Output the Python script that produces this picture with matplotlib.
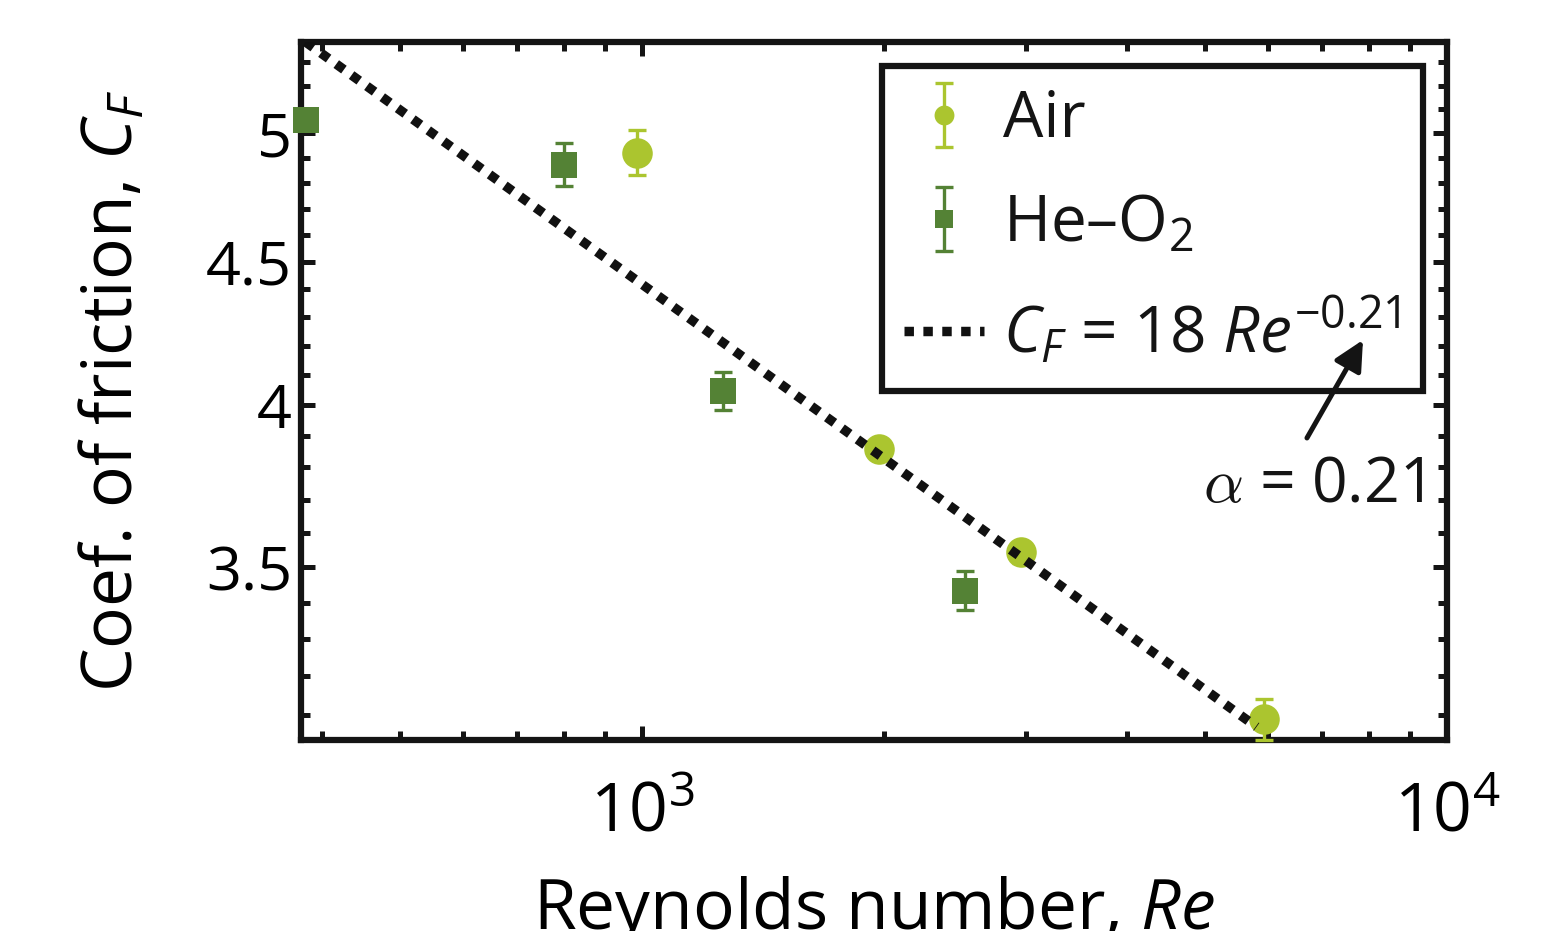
import matplotlib
matplotlib.use("Agg")
import matplotlib.pyplot as plt
from matplotlib.ticker import LogLocator, FixedLocator, NullFormatter, FixedFormatter

# ---- data ----
re_air = [985, 1972, 2954, 5923]
cf_air = [4.922, 3.859, 3.543, 3.089]
err_air = [0.09, 0.03, 0.03, 0.053]

re_he = [382, 799, 1261, 2516]
cf_he = [5.055, 4.873, 4.045, 3.434]
err_he = [0.04, 0.086, 0.063, 0.055]

fit_re = [382, 5800]
fit_cf = [5.39, 3.07]

y_major = [3.5, 4, 4.5, 5]
y_major_labels = ["3.5", "4", "4.5", "5"]
y_minor = [3.1, 3.2, 3.3, 3.4, 3.6, 3.7, 3.8, 3.9, 4.1, 4.2, 4.3, 4.4,
           4.6, 4.7, 4.8, 4.9, 5.1, 5.2, 5.3]

c_air = "#abc52f"
c_he = "#548235"

plt.rcParams['font.family'] = ['Open Sans', 'DejaVu Sans']
plt.rcParams['mathtext.fontset'] = 'custom'
plt.rcParams['mathtext.rm'] = 'Open Sans'
plt.rcParams['mathtext.it'] = 'Open Sans:italic'
plt.rcParams['mathtext.bf'] = 'Open Sans:bold'
plt.rcParams['text.color'] = '#141414'

fig = plt.figure(figsize=(15.59, 9.31), dpi=100)
ax = fig.add_axes([301/1559, 1-740/931, (1447-301)/1559, (740-42)/931])

ax.set_xscale('log')
ax.set_yscale('log')
ax.set_xlim(377, 10000)
ax.set_ylim(3.037, 5.39)

h_air = ax.errorbar(re_air, cf_air, yerr=err_air, fmt='o', color=c_air,
                    markersize=22, elinewidth=2.4,
                    capsize=6.7, capthick=2.4, zorder=3, clip_on=False)
h_air[0].set_markeredgewidth(0)
h_he = ax.errorbar(re_he, cf_he, yerr=err_he, fmt='s', color=c_he,
                   markersize=19, elinewidth=2.4,
                   capsize=6.7, capthick=2.4, zorder=3, clip_on=False)
h_he[0].set_markeredgewidth(0)
h_fit, = ax.plot(fit_re, fit_cf, color='#111111', lw=6.8,
                 linestyle=(0, (1, 1)), zorder=4)

# axes styling
for s in ax.spines.values():
    s.set_linewidth(4.5)
    s.set_color('#141414')

ax.yaxis.set_major_locator(FixedLocator(y_major))
ax.yaxis.set_major_formatter(FixedFormatter(y_major_labels))
ax.yaxis.set_minor_locator(FixedLocator(y_minor))
ax.yaxis.set_minor_formatter(NullFormatter())
ax.xaxis.set_major_locator(LogLocator(base=10, numticks=10))
ax.xaxis.set_minor_locator(LogLocator(base=10, subs=[2, 3, 4, 5, 6, 7, 8, 9], numticks=20))
ax.xaxis.set_minor_formatter(NullFormatter())

ax.tick_params(which='both', direction='in', top=True, right=True,
               color='#141414', width=3.6)
ax.tick_params(which='major', length=10)
ax.tick_params(which='minor', length=6.2)
ax.tick_params(axis='y', which='major', pad=6.5, labelsize=44)
ax.tick_params(axis='x', which='major', pad=29, labelsize=49)

ax.set_xlabel('Reynolds number, $Re$', fontsize=50, labelpad=19)
ax.set_ylabel('Coef. of friction, $C_F$', fontsize=50, labelpad=40)

leg = ax.legend([h_air, h_he, h_fit],
                ['Air', 'He\u2013O$_2$', '$C_F$ = 18 $Re^{-0.21}$'],
                loc='upper right', bbox_to_anchor=(0.979, 0.966),
                bbox_transform=ax.transAxes, fontsize=46, frameon=True,
                fancybox=False, framealpha=1, edgecolor='#141414',
                borderpad=0.35, labelspacing=0.63, handlelength=1.25,
                handletextpad=0.3, borderaxespad=0, markerscale=0.65)
leg.get_frame().set_linewidth(4.5)

ax.annotate('', xy=(0.9267, 0.5731), xytext=(0.8778, 0.4327),
            xycoords='axes fraction', textcoords='axes fraction',
            arrowprops=dict(arrowstyle='-|>', lw=3.6, color='#141414',
                            mutation_scale=45, shrinkA=0, shrinkB=0),
            zorder=7)
ax.text(0.979, 0.341, r'$\alpha$ = 0.21', transform=ax.transAxes,
        ha='right', va='baseline', fontsize=45, math_fontfamily='cm')

fig.savefig('out.png', dpi=100)
